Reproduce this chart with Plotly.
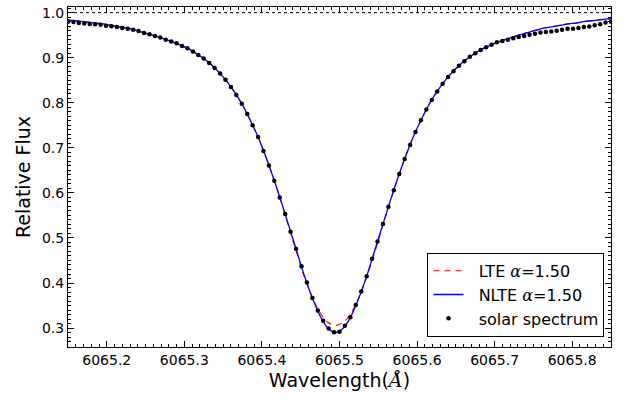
import plotly.graph_objects as go

# Model wavelength grid (Angstrom) and synthetic fluxes
model_wave = [
    6065.145, 6065.155, 6065.165, 6065.175, 6065.185, 6065.195, 6065.205, 6065.215,
    6065.225, 6065.235, 6065.245, 6065.255, 6065.265, 6065.275, 6065.285, 6065.295,
    6065.305, 6065.315, 6065.325, 6065.335, 6065.345, 6065.355, 6065.365, 6065.375,
    6065.385, 6065.395, 6065.405, 6065.415, 6065.425, 6065.435, 6065.445, 6065.455,
    6065.465, 6065.475, 6065.485, 6065.495, 6065.505, 6065.515, 6065.525, 6065.535,
    6065.545, 6065.555, 6065.565, 6065.575, 6065.585, 6065.595, 6065.605, 6065.615,
    6065.625, 6065.635, 6065.645, 6065.655, 6065.665, 6065.675, 6065.685, 6065.695,
    6065.705, 6065.715, 6065.725, 6065.735, 6065.745, 6065.755, 6065.765, 6065.775,
    6065.785, 6065.795, 6065.805, 6065.815, 6065.825, 6065.835, 6065.845, 6065.855,
]

nlte_flux = [
    0.985, 0.983, 0.981, 0.979, 0.977, 0.975, 0.972, 0.969,
    0.966, 0.962, 0.957, 0.952, 0.947, 0.941, 0.935, 0.928,
    0.920, 0.910, 0.898, 0.884, 0.867, 0.847, 0.823, 0.795,
    0.761, 0.724, 0.680, 0.632, 0.580, 0.525, 0.470, 0.415,
    0.367, 0.327, 0.300, 0.290, 0.300, 0.327, 0.367, 0.415,
    0.470, 0.525, 0.580, 0.632, 0.680, 0.724, 0.761, 0.795,
    0.823, 0.847, 0.867, 0.884, 0.898, 0.910, 0.920, 0.928,
    0.935, 0.941, 0.947, 0.952, 0.957, 0.962, 0.966, 0.969,
    0.972, 0.975, 0.977, 0.980, 0.982, 0.984, 0.986, 0.987,
]

lte_flux = [
    0.985, 0.983, 0.981, 0.979, 0.977, 0.975, 0.972, 0.969,
    0.966, 0.962, 0.957, 0.952, 0.947, 0.941, 0.935, 0.928,
    0.920, 0.910, 0.898, 0.884, 0.867, 0.847, 0.823, 0.795,
    0.761, 0.724, 0.680, 0.632, 0.579, 0.522, 0.466, 0.412,
    0.368, 0.334, 0.313, 0.306, 0.313, 0.334, 0.368, 0.412,
    0.466, 0.522, 0.579, 0.632, 0.680, 0.724, 0.761, 0.795,
    0.823, 0.847, 0.867, 0.884, 0.898, 0.910, 0.920, 0.928,
    0.935, 0.941, 0.947, 0.952, 0.957, 0.962, 0.966, 0.969,
    0.972, 0.975, 0.977, 0.980, 0.982, 0.984, 0.986, 0.987,
]

# Observed solar spectrum
solar_wave = [
    6065.150, 6065.157, 6065.164, 6065.171, 6065.178, 6065.185, 6065.192, 6065.199,
    6065.206, 6065.213, 6065.220, 6065.227, 6065.234, 6065.241, 6065.248, 6065.255,
    6065.262, 6065.269, 6065.276, 6065.283, 6065.290, 6065.297, 6065.304, 6065.311,
    6065.318, 6065.325, 6065.332, 6065.339, 6065.346, 6065.353, 6065.360, 6065.367,
    6065.374, 6065.381, 6065.388, 6065.395, 6065.402, 6065.409, 6065.416, 6065.423,
    6065.430, 6065.437, 6065.444, 6065.451, 6065.458, 6065.465, 6065.472, 6065.479,
    6065.486, 6065.493, 6065.500, 6065.507, 6065.514, 6065.521, 6065.528, 6065.535,
    6065.542, 6065.549, 6065.556, 6065.563, 6065.570, 6065.577, 6065.584, 6065.591,
    6065.598, 6065.605, 6065.612, 6065.619, 6065.626, 6065.633, 6065.640, 6065.647,
    6065.654, 6065.661, 6065.668, 6065.675, 6065.682, 6065.689, 6065.696, 6065.703,
    6065.710, 6065.717, 6065.724, 6065.731, 6065.738, 6065.745, 6065.752, 6065.759,
    6065.766, 6065.773, 6065.780, 6065.787, 6065.794, 6065.801, 6065.808, 6065.815,
    6065.822, 6065.829, 6065.836, 6065.843, 6065.850,
]

solar_flux = [
    0.980, 0.979, 0.977, 0.976, 0.975, 0.974, 0.973, 0.971,
    0.970, 0.968, 0.966, 0.964, 0.962, 0.959, 0.955, 0.952,
    0.948, 0.945, 0.940, 0.936, 0.932, 0.926, 0.921, 0.914,
    0.906, 0.898, 0.888, 0.877, 0.865, 0.851, 0.835, 0.817,
    0.798, 0.775, 0.750, 0.724, 0.693, 0.661, 0.627, 0.590,
    0.553, 0.514, 0.476, 0.437, 0.401, 0.367, 0.339, 0.316,
    0.299, 0.291, 0.292, 0.305, 0.324, 0.351, 0.381, 0.415,
    0.454, 0.492, 0.531, 0.569, 0.606, 0.642, 0.675, 0.706,
    0.735, 0.761, 0.785, 0.806, 0.825, 0.842, 0.857, 0.870,
    0.882, 0.892, 0.902, 0.910, 0.917, 0.923, 0.929, 0.934,
    0.937, 0.940, 0.943, 0.946, 0.948, 0.951, 0.953, 0.956,
    0.957, 0.958, 0.960, 0.962, 0.964, 0.964, 0.966, 0.968,
    0.969, 0.972, 0.974, 0.978, 0.980,
]

continuum_wave = [6065.15, 6065.85]
continuum_flux = [1.0, 1.0]

x_ticks = [6065.2, 6065.3, 6065.4, 6065.5, 6065.6, 6065.7, 6065.8]
y_ticks = [0.3, 0.4, 0.5, 0.6, 0.7, 0.8, 0.9, 1.0]

FONT = "DejaVu Sans, sans-serif"
SERIF_IT = "<span style='font-family:DejaVu Serif; font-style:italic'>{}</span>"
PAD = "\u00a0\u00a0"

fig = go.Figure()

fig.add_trace(go.Scatter(
    x=continuum_wave, y=continuum_flux, mode="lines",
    line=dict(color="black", width=1, dash="dot"), showlegend=False,
    hoverinfo="skip",
))
fig.add_trace(go.Scatter(
    x=model_wave, y=lte_flux, mode="lines", line_shape="spline",
    line=dict(color="#ff0000", width=1.1, dash="6px,5px"),
    name=PAD + "LTE " + SERIF_IT.format("α") + "=1.50",
))
fig.add_trace(go.Scatter(
    x=model_wave, y=nlte_flux, mode="lines", line_shape="spline",
    line=dict(color="#0000ff", width=1.3),
    name=PAD + "NLTE " + SERIF_IT.format("α") + "=1.50",
))
fig.add_trace(go.Scatter(
    x=solar_wave, y=solar_flux, mode="markers",
    marker=dict(color="black", size=4.5),
    name=PAD + "solar spectrum",
))

axis_common = dict(
    showline=True, linecolor="black", linewidth=1, mirror="allticks",
    ticks="inside", ticklen=6, tickwidth=1, tickcolor="black",
    showgrid=False, zeroline=False,
    tickfont=dict(family=FONT, size=14, color="black"),
)

fig.update_xaxes(
    range=[6065.15, 6065.85], tickvals=x_ticks, ticktext=[f"{v:.1f}" for v in x_ticks],
    minor=dict(dtick=0.01, tick0=6065.0, ticks="inside", ticklen=3, tickcolor="black", showgrid=False),
    title=dict(text="Wavelength(" + SERIF_IT.format("Å") + ")",
               font=dict(family=FONT, size=19, color="black"), standoff=6),
    **axis_common,
)
fig.update_yaxes(
    range=[0.258, 1.0125], tickvals=y_ticks, ticktext=[f"{v:.1f}" for v in y_ticks],
    minor=dict(dtick=0.01, tick0=0.0, ticks="inside", ticklen=3, tickcolor="black", showgrid=False),
    title=dict(text="Relative Flux", font=dict(family=FONT, size=19, color="black"), standoff=6),
    **axis_common,
)

fig.update_layout(
    width=627, height=400,
    margin=dict(l=68, r=16, t=5, b=53),
    paper_bgcolor="white", plot_bgcolor="white",
    font=dict(family=FONT, color="black"),
    legend=dict(
        x=0.988, y=0.03, xanchor="right", yanchor="bottom",
        bgcolor="white", bordercolor="black", borderwidth=1,
        font=dict(family=FONT, size=16, color="black"),
        itemwidth=30, tracegroupgap=0,
    ),
)

fig.write_html("out.html")
